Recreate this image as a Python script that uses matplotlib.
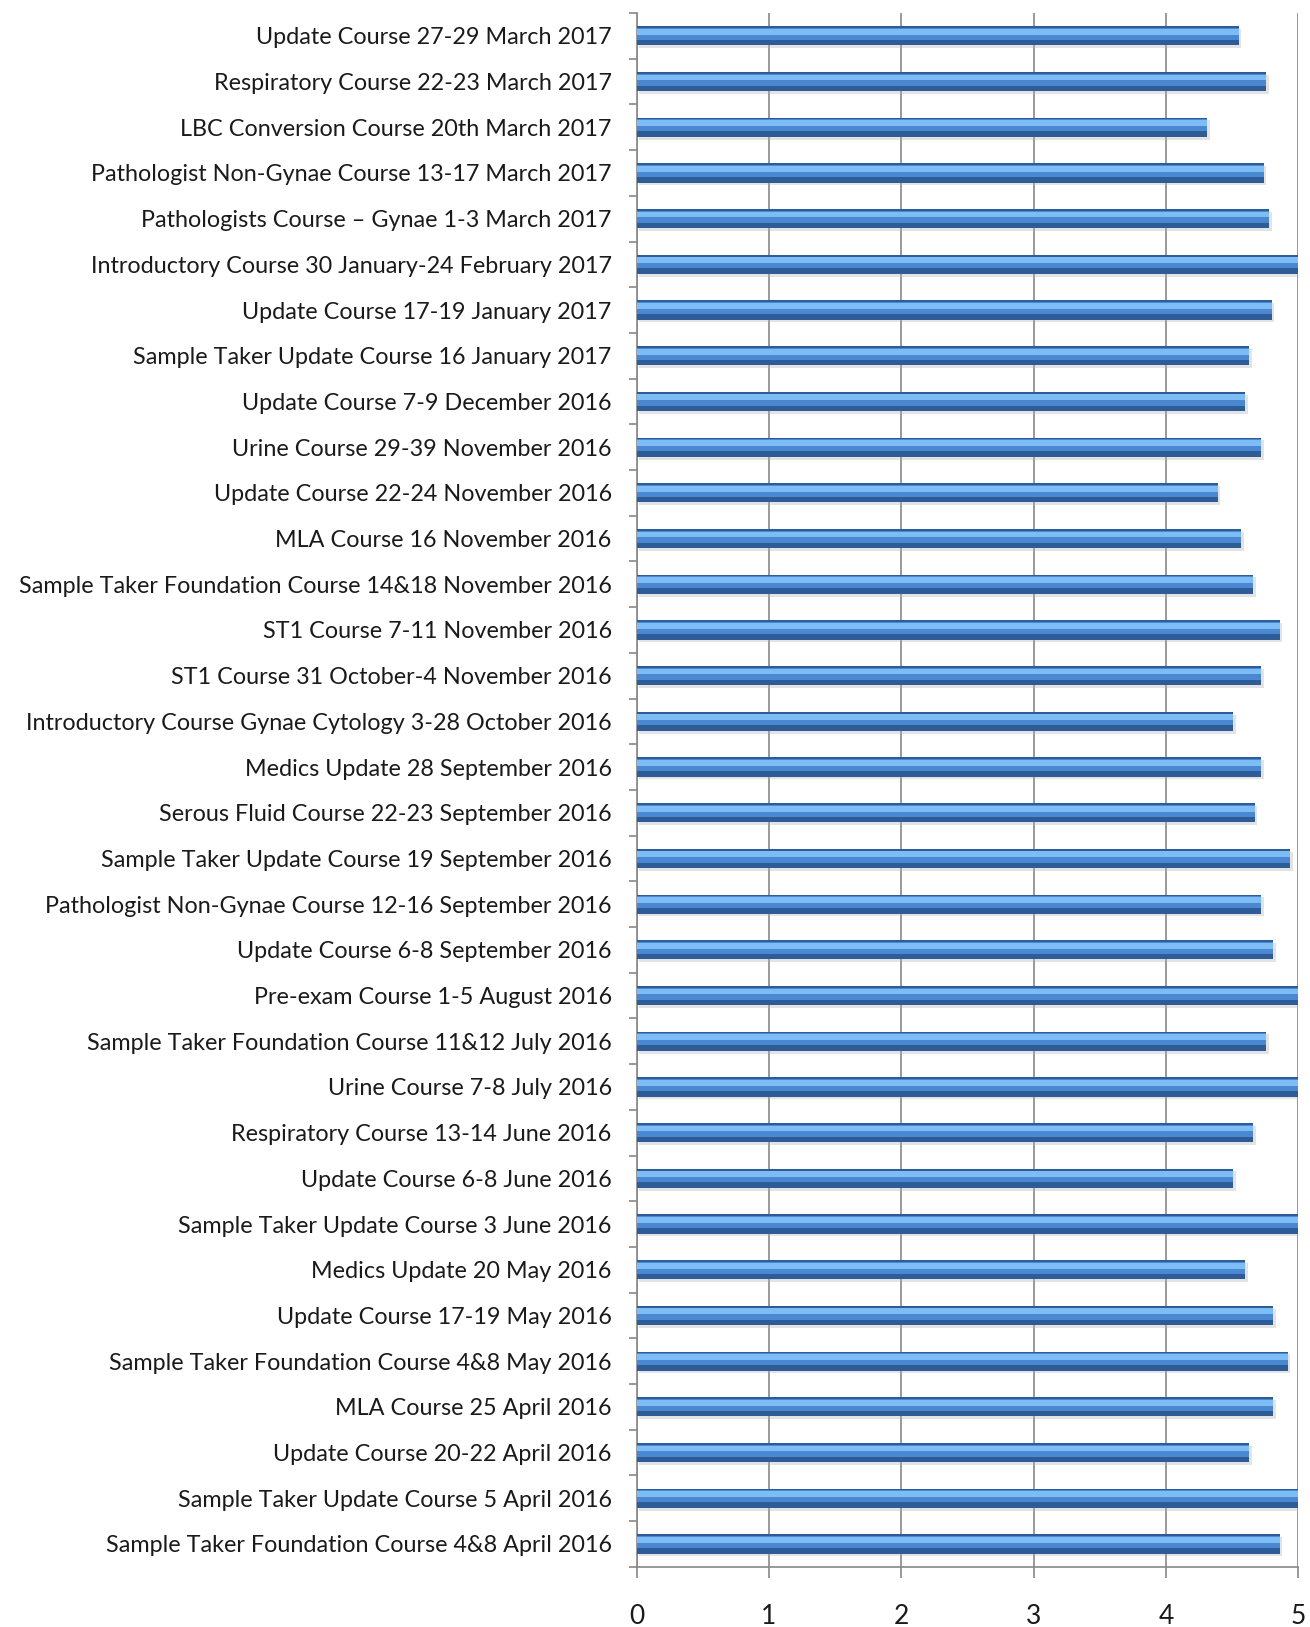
import matplotlib
matplotlib.use("Agg")
from matplotlib import pyplot as plt
import numpy as np

plt.rcParams['font.family'] = ['Lato', 'DejaVu Sans']

courses = [
    "Update Course 27-29 March 2017",
    "Respiratory Course 22-23 March 2017",
    "LBC Conversion Course 20th March 2017",
    "Pathologist Non-Gynae Course 13-17 March 2017",
    "Pathologists Course \u2013 Gynae 1-3 March 2017",
    "Introductory Course 30 January-24 February 2017",
    "Update Course 17-19 January 2017",
    "Sample Taker Update Course 16 January 2017",
    "Update Course 7-9 December 2016",
    "Urine Course 29-39 November 2016",
    "Update Course 22-24 November 2016",
    "MLA Course 16 November 2016",
    "Sample Taker Foundation Course 14&18 November 2016",
    "ST1 Course 7-11 November 2016",
    "ST1 Course 31 October-4 November 2016",
    "Introductory Course Gynae Cytology 3-28 October 2016",
    "Medics Update 28 September 2016",
    "Serous Fluid Course 22-23 September 2016",
    "Sample Taker Update Course 19 September 2016",
    "Pathologist Non-Gynae Course 12-16 September 2016",
    "Update Course 6-8 September 2016",
    "Pre-exam Course 1-5 August 2016",
    "Sample Taker Foundation Course 11&12 July 2016",
    "Urine Course 7-8 July 2016",
    "Respiratory Course 13-14 June 2016",
    "Update Course 6-8 June 2016",
    "Sample Taker Update Course 3 June 2016",
    "Medics Update 20 May 2016",
    "Update Course 17-19 May 2016",
    "Sample Taker Foundation Course 4&8 May 2016",
    "MLA Course 25 April 2016",
    "Update Course 20-22 April 2016",
    "Sample Taker Update Course 5 April 2016",
    "Sample Taker Foundation Course 4&8 April 2016",
]

scores = [4.55, 4.76, 4.31, 4.74, 4.78, 5.0, 4.80, 4.63, 4.60, 4.72, 4.39,
          4.57, 4.66, 4.86, 4.72, 4.51, 4.72, 4.67, 4.94, 4.72, 4.81, 5.0,
          4.76, 5.0, 4.66, 4.51, 5.0, 4.60, 4.81, 4.92, 4.81, 4.63, 5.0, 4.86]

xticks = [0, 1, 2, 3, 4, 5]

fig = plt.figure(figsize=(13.1, 16.27), dpi=100)
ax = fig.add_axes([0.486, 0.037, 0.505, 0.955])

y = np.arange(len(courses))
h = 0.42

# soft shadow under each bar
ax.barh(y + 0.06, scores, height=h, left=0.02, color='#b0b0b0', alpha=0.35, zorder=2)
# bar body, dark base then lighter layers to fake the gradient
ax.barh(y, scores, height=h, color='#2d5c96', zorder=3)
ax.barh(y - 0.04, scores, height=h * 0.62, color='#4a88d2', zorder=4)
ax.barh(y - 0.09, scores, height=h * 0.3, color='#7dbcf5', zorder=5)

ax.set_xlim(0, 5)
ax.set_ylim(len(courses) - 0.5, -0.5)

ax.set_yticks(y)
ax.set_yticklabels(courses, fontsize=16.8, color='#1a1a1a')
ax.set_yticks(np.arange(len(courses) + 1) - 0.5, minor=True)
ax.tick_params(axis='y', which='major', length=0, pad=18)
ax.tick_params(axis='y', which='minor', length=6, color='#888888', width=1.2)

ax.set_xticks(xticks)
ax.set_xticklabels([str(t) for t in xticks], fontsize=19, color='#1a1a1a')
ax.tick_params(axis='x', length=8, color='#888888', width=1.2, pad=19)

ax.grid(axis='x', color='#888888', linewidth=1.2, zorder=1)
ax.set_axisbelow(True)

for s in ['top', 'right']:
    ax.spines[s].set_visible(False)
ax.spines['left'].set_color('#888888')
ax.spines['bottom'].set_color('#888888')
ax.spines['left'].set_linewidth(1.2)
ax.spines['bottom'].set_linewidth(1.2)

fig.savefig("out.png", dpi=100)
